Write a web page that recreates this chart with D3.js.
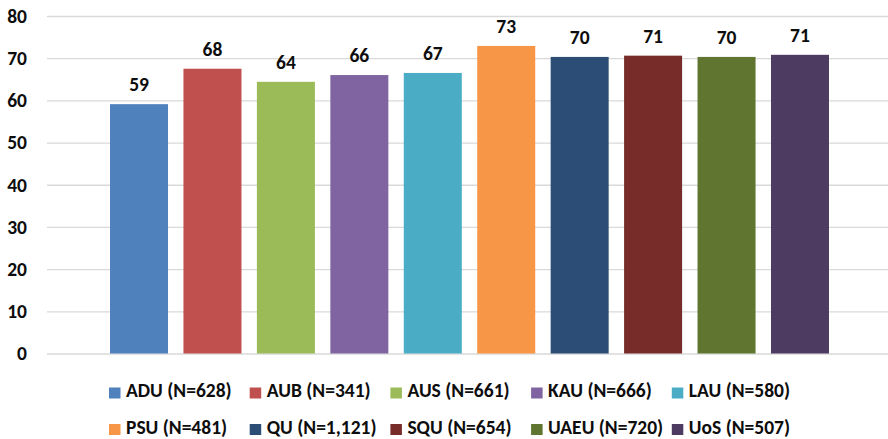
<!DOCTYPE html>
<html>
<head>
<meta charset="utf-8">
<script src="https://cdn.jsdelivr.net/npm/d3@7"></script>
<style>
  html, body { margin: 0; padding: 0; background: #fff; }
  svg { display: block; }
  .lbl { font-family: Carlito, Calibri, "Open Sans", sans-serif; font-weight: 700; fill: #0d0d0d; }
</style>
</head>
<body>
<svg id="chart" width="888" height="439"></svg>
<script>
// Universities and their sample sizes
const universities = ["ADU", "AUB", "AUS", "KAU", "LAU", "PSU", "QU", "SQU", "UAEU", "UoS"];
const sampleSizes = ["628", "341", "661", "666", "580", "481", "1,121", "654", "720", "507"];
// Mean score per university
const scores = [59.1, 67.5, 64.4, 66.0, 66.5, 72.9, 70.3, 70.6, 70.3, 70.8];
// Fill colour per university
const colors = ["#4F81BD", "#C0504D", "#9BBB59", "#8064A2", "#4BACC6",
                "#F79646", "#2C4D75", "#772C2A", "#5F7530", "#4D3B62"];
// Value axis ticks
const yTicks = [0, 10, 20, 30, 40, 50, 60, 70, 80];

const svg = d3.select("#chart");

const gridLeft = 47, gridRight = 888;
const y = d3.scaleLinear().domain([0, 80]).range([353.5, 16]);
const x = d3.scaleBand().domain(universities).range([102.3, 836.7]).paddingInner(0.21).paddingOuter(0.105);

// Gridlines and value axis labels
const yAxis = d3.axisLeft(y)
  .tickValues(yTicks)
  .tickSize(-(gridRight - gridLeft))
  .tickPadding(20);

const ga = svg.append("g")
  .attr("transform", `translate(${gridLeft},0)`)
  .call(yAxis);
ga.select(".domain").remove();
ga.selectAll(".tick line").attr("stroke", "#d9d9d9").attr("stroke-width", 1.3);
ga.selectAll(".tick text")
  .attr("class", "lbl")
  .style("font-size", "19.5px")
  .attr("fill", "#0d0d0d");

// Bars
svg.append("g").selectAll("rect")
  .data(universities)
  .join("rect")
  .attr("x", d => x(d))
  .attr("width", x.bandwidth())
  .attr("y", (d, i) => y(scores[i]))
  .attr("height", (d, i) => y(0) - y(scores[i]))
  .attr("fill", (d, i) => colors[i]);

// Value labels above bars
svg.append("g").selectAll("text")
  .data(universities)
  .join("text")
  .attr("class", "lbl")
  .style("font-size", "19.5px")
  .attr("text-anchor", "middle")
  .attr("x", d => x(d) + x.bandwidth() / 2)
  .attr("y", (d, i) => y(scores[i]) - 13)
  .text((d, i) => d3.format(".0f")(scores[i]));

// Legend: two rows of five entries
const legendX0 = 109, legendStep = 140.7;
const legendRows = [397, 433.5];
const lg = svg.append("g").selectAll("g")
  .data(universities)
  .join("g")
  .attr("transform", (d, i) => `translate(${legendX0 + (i % 5) * legendStep},${legendRows[Math.floor(i / 5)]})`);
lg.append("rect")
  .attr("x", 0).attr("y", -9.5)
  .attr("width", 11.5).attr("height", 11)
  .attr("fill", (d, i) => colors[i]);
lg.append("text")
  .attr("class", "lbl")
  .style("font-size", "19.5px")
  .attr("x", 17).attr("y", 0)
  .text((d, i) => `${d} (N=${sampleSizes[i]})`);
</script>
</body>
</html>
